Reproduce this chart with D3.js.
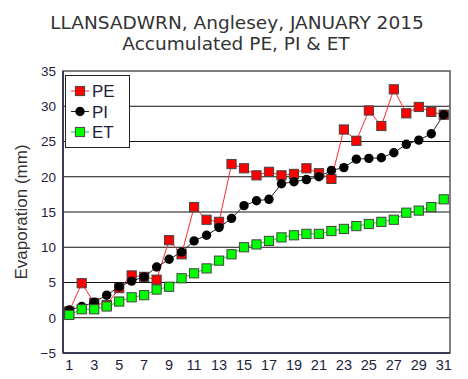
<!DOCTYPE html>
<html lang="en">
<head>
  <meta charset="UTF-8">
  <script src="https://d3js.org/d3.v7.min.js"></script>
  <title>Llansadwrn accumulated PE, PI & ET</title>
  <style>
    body { margin: 0; background: #fff; }
  </style>
</head>
<body>
  <svg width="468" height="379"></svg>
  <script>
    const days = d3.range(1, 32)
    const dayTicks = [1, 3, 5, 7, 9, 11, 13, 15, 17, 19, 21, 23, 25, 27, 29, 31]
    const yTicks = [-5, 0, 5, 10, 15, 20, 25, 30, 35]

    // accumulated mm
    const pe = [0.9, 4.9, 2.1, 1.8, 4.2, 6.0, 5.8, 5.4, 11.0, 9.0, 15.7, 13.9, 13.6, 21.8, 21.2, 20.2,
      20.7, 20.2, 20.4, 21.2, 20.5, 19.7, 26.7, 25.1, 29.4, 27.2, 32.4, 29.0, 29.9, 29.2, 28.8]
    const pi = [1.1, 1.6, 2.2, 3.2, 4.4, 5.2, 5.8, 7.2, 8.3, 9.3, 10.9, 11.7, 12.8, 14.1, 15.9, 16.6,
      16.8, 19.0, 19.3, 19.6, 20.0, 20.9, 21.3, 22.5, 22.6, 22.7, 23.4, 24.6, 25.2, 26.1, 28.8]
    const et = [0.4, 1.2, 1.2, 1.6, 2.3, 2.9, 3.2, 4.0, 4.4, 5.6, 6.3, 7.0, 8.1, 9.0, 10.0, 10.4,
      10.9, 11.4, 11.7, 11.9, 11.9, 12.3, 12.6, 13.0, 13.3, 13.6, 13.9, 14.9, 15.2, 15.7, 16.8]

    const series = [
      { name: 'PE', values: pe, line: '#ff2a2a', fill: '#ff0000', shape: 'square' },
      { name: 'PI', values: pi, line: '#222', fill: '#000', shape: 'dot' },
      { name: 'ET', values: et, line: '#22cc22', fill: '#00ff00', shape: 'square' }
    ]

    const TEXT_COLOR = '#1e1e3c'
    const svg = d3.select('svg')
    const plotLeft = 63, plotRight = 450, plotTop = 71, plotBottom = 353

    const x = d3.scaleBand().domain(days).range([plotLeft, plotRight])
    const cx = d => x(d) + x.bandwidth() / 2
    const y = d3.scaleLinear().domain([-5, 35]).range([plotBottom, plotTop])

    // titles
    svg.append('text').attr('x', 237).attr('y', 29).attr('text-anchor', 'middle')
      .attr('font-family', 'DejaVu Sans').attr('font-size', 18.5).attr('fill', '#333')
      .text('LLANSADWRN, Anglesey, JANUARY 2015')
    svg.append('text').attr('x', 236).attr('y', 50).attr('text-anchor', 'middle')
      .attr('font-family', 'DejaVu Sans').attr('font-size', 18.5).attr('fill', '#333')
      .text('Accumulated PE, PI & ET')

    // grid
    svg.append('g').selectAll('line').data(yTicks.filter(v => v > -5 && v < 35)).join('line')
      .attr('x1', plotLeft).attr('x2', plotRight)
      .attr('y1', d => y(d)).attr('y2', d => y(d))
      .attr('stroke', '#111').attr('stroke-width', 1)

    // frame
    svg.append('rect').attr('x', plotLeft).attr('y', plotTop)
      .attr('width', plotRight - plotLeft).attr('height', plotBottom - plotTop)
      .attr('fill', 'none').attr('stroke', '#555').attr('stroke-width', 1.5)
    svg.append('line').attr('x1', plotLeft).attr('x2', plotLeft).attr('y1', plotTop).attr('y2', plotBottom)
      .attr('stroke', '#3a3a5a').attr('stroke-width', 2)
    svg.append('line').attr('x1', plotLeft).attr('x2', plotRight).attr('y1', plotBottom).attr('y2', plotBottom)
      .attr('stroke', '#3a3a5a').attr('stroke-width', 2)

    // axes
    const yAxis = svg.append('g').attr('transform', `translate(${plotLeft},0)`)
      .call(d3.axisLeft(y).tickValues(yTicks).tickSize(0).tickPadding(7))
    const xAxis = svg.append('g').attr('transform', `translate(0,${plotBottom})`)
      .call(d3.axisBottom(x).tickValues(dayTicks).tickSize(0).tickPadding(7))
    ;[yAxis, xAxis].forEach(g => {
      g.select('.domain').remove()
      g.selectAll('text').attr('font-family', 'Liberation Sans').attr('fill', TEXT_COLOR)
    })
    yAxis.selectAll('text').attr('font-size', 13.5)
    xAxis.selectAll('text').attr('font-size', 14.5)

    svg.append('text')
      .attr('transform', `translate(27,${(plotTop + plotBottom) / 2}) rotate(-90)`)
      .attr('text-anchor', 'middle').attr('font-family', 'Liberation Sans')
      .attr('font-size', 17).attr('fill', '#333')
      .text('Evaporation (mm)')

    const line = d3.line().x((v, i) => cx(days[i])).y(v => y(v))

    function drawMarker(g, s, px, py) {
      if (s.shape === 'square') {
        g.append('rect').attr('x', px - 4.6).attr('y', py - 4.6)
          .attr('width', 9.2).attr('height', 9.2)
          .attr('fill', s.fill).attr('stroke', '#444').attr('stroke-width', 1)
      } else {
        g.append('circle').attr('cx', px).attr('cy', py).attr('r', 4.7).attr('fill', s.fill)
      }
    }

    series.forEach(s => {
      const g = svg.append('g')
      g.append('path').attr('d', line(s.values))
        .attr('fill', 'none').attr('stroke', s.line).attr('stroke-width', 1)
      s.values.forEach((v, i) => drawMarker(g, s, cx(days[i]), y(v)))
    })

    // legend
    const legend = svg.append('g')
    legend.append('rect').attr('x', 65.5).attr('y', 75.5).attr('width', 64).attr('height', 72)
      .attr('fill', '#fff').attr('stroke', '#222').attr('stroke-width', 1)
    series.forEach((s, i) => {
      const ly = 91 + i * 20.5
      legend.append('line').attr('x1', 71).attr('x2', 89).attr('y1', ly).attr('y2', ly)
        .attr('stroke', s.line).attr('stroke-width', 1)
      drawMarker(legend, s, 80, ly)
      legend.append('text').attr('x', 92).attr('y', ly + 6)
        .attr('font-family', 'Liberation Sans').attr('font-size', 17).attr('fill', TEXT_COLOR)
        .text(s.name)
    })
  </script>
</body>
</html>
